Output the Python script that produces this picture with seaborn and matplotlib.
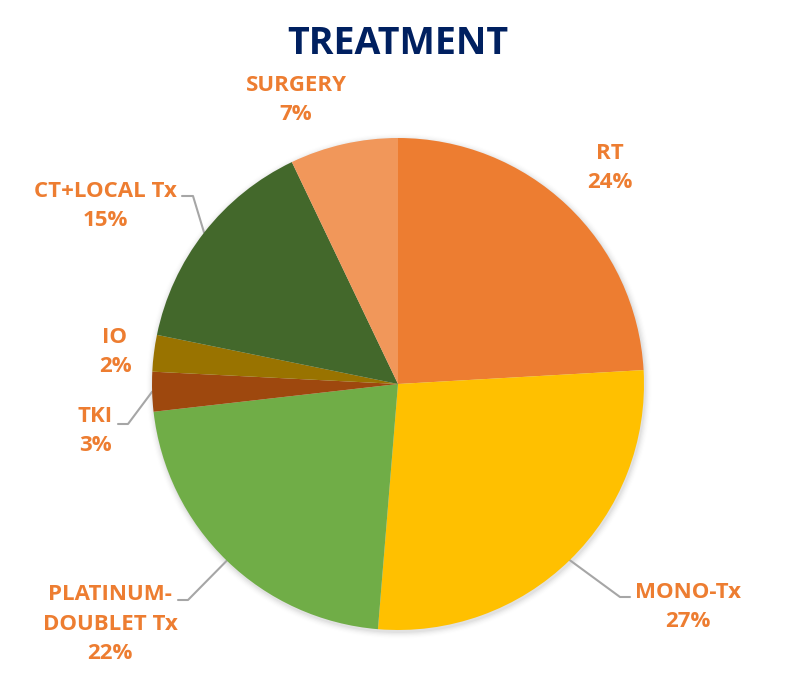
import numpy as np
import matplotlib
matplotlib.use("Agg")
import matplotlib.pyplot as plt
import seaborn as sns
from matplotlib.patches import Circle

# ---- data ----
categories = ["RT", "MONO-Tx", "PLATINUM-\nDOUBLET Tx", "TKI", "IO", "CT+LOCAL Tx", "SURGERY"]
values = [24.1, 27.2, 21.9, 2.6, 2.4, 14.7, 7.1]
colors = ["#ED7D31", "#FFC000", "#70AD47", "#9E480E", "#997300", "#43682B", "#F1975A"]

# ---- layout (pixel coords, y measured from top) ----
W, H = 795, 684
cx, cy, R = 398, 384, 246
label_pos = {
    "RT": (610, 168),
    "MONO-Tx": (688, 607),
    "PLATINUM-\nDOUBLET Tx": (110, 624),
    "TKI": (95, 431),
    "IO": (115, 352),
    "CT+LOCAL Tx": (105, 206),
    "SURGERY": (296, 100),
}
# leader elbow points and end points
leaders = {
    "MONO-Tx": [(620, 597), (630, 597)],
    "PLATINUM-\nDOUBLET Tx": [(188, 600), (178, 600)],
    "TKI": [(128, 424), (118, 424)],
    "CT+LOCAL Tx": [(193, 196), (182, 196)],
}

sns.set_theme(style="white")
plt.rcParams["font.family"] = ["Open Sans", "DejaVu Sans"]

fig = plt.figure(figsize=(W / 100, H / 100), dpi=100)
ax = fig.add_axes([0, 0, 1, 1])

def fy(y):
    return H - y

# soft shadow
for i, a in enumerate(np.linspace(0.035, 0.005, 6)):
    ax.add_patch(Circle((cx + 1, fy(cy) - 2), R + 1 + i * 1.2, color="black", alpha=a, lw=0, zorder=0))

wedges, _ = ax.pie(values, colors=colors, startangle=90, counterclock=False,
                   center=(cx, fy(cy)), radius=R,
                   wedgeprops=dict(linewidth=0))
for w in wedges:
    w.set_zorder(2)

ax.set_xlim(0, W)
ax.set_ylim(0, H)
ax.set_aspect("equal")
ax.axis("off")

total = sum(values)
for w, cat, v in zip(wedges, categories, values):
    x, y = label_pos[cat]
    txt = f"{cat}\n{v / total * 100:.0f}%"
    ax.text(x, fy(y), txt, ha="center", va="center", color="#ED7D31",
            fontsize=16, fontweight="bold", linespacing=1.55, zorder=5)
    if cat in leaders:
        mid = np.deg2rad((w.theta1 + w.theta2) / 2)
        sx, sy = cx + R * np.cos(mid), fy(cy) + R * np.sin(mid)
        pts = [(sx, sy)] + [(px, fy(py)) for px, py in leaders[cat]]
        ax.plot([p[0] for p in pts], [p[1] for p in pts], color="#A6A6A6", lw=1.5, zorder=1)

fig.text(398 / W, 1 - 44 / H, "TREATMENT", ha="center", va="center",
         color="#002060", fontsize=27, fontweight="bold")

fig.savefig("out.png", dpi=100, facecolor="white")
